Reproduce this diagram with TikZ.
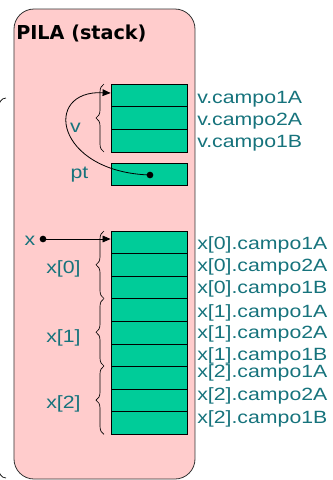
\documentclass[tikz,border=0pt]{standalone}
\usepackage{fontspec}
\setmainfont{Liberation Sans}[FakeStretch=1.2]
\newfontfamily\titlefont{DejaVu Sans}
\usetikzlibrary{arrows.meta,decorations.pathreplacing}
\definecolor{stackpink}{RGB}{255,204,204}
\definecolor{cellgreen}{RGB}{0,204,153}
\definecolor{labelteal}{RGB}{22,115,124}
\tikzset{
  cell/.style={draw=black,fill=cellgreen,line width=0.6pt,minimum width=57pt,minimum height=17pt,inner sep=0pt},
  lbl/.style={text=labelteal,font=\fontsize{13.3pt}{15pt}\selectfont,inner sep=0pt},
  rlbl/.style={lbl,anchor=base west},
  curly/.style={decorate,decoration={brace,amplitude=6pt},line width=0.5pt},
  ptr/.style={line width=0.6pt,-{Triangle[length=6pt,width=5pt]}},
  dot/.style={circle,fill=black,inner sep=0pt,minimum size=5pt}
}
\begin{document}
\begin{tikzpicture}[x=0.75pt,y=-0.75pt]
\useasboundingbox (0,0) rectangle (333,480);
% stack frame
\node[draw=black!80,fill=stackpink,rounded corners=15pt,line width=0.6pt,
      minimum width=135.75pt,minimum height=352.5pt,inner sep=0pt] (stack) at (104.5,244) {};
\node[anchor=base west,inner sep=0pt,font=\titlefont\bfseries\fontsize{14.4pt}{16pt}\selectfont] (title) at (16,39) {PILA (stack)};
% brace of the enclosing block, cut by the page edge
\draw[line width=0.5pt] (6,98) to[out=180,in=80] (-2,108);
\draw[line width=0.5pt] (6,478) to[out=180,in=-80] (-2,468);
% record v
\node[cell] (v1) at (149,95.3) {};
\node[cell] (v2) at (149,118) {};
\node[cell] (v3) at (149,140.7) {};
% pointer pt
\node[cell] (pt) at (149,174.5) {};
% array x
\foreach \i/\y in {1/242.3,2/264.9,3/287.5,4/310.1,5/332.7,6/355.3,7/377.9,8/400.5,9/423.1}
  \node[cell] (x\i) at (149,\y) {};
% braces
\draw[curly] (104,152) -- (104,84);
\draw[curly] (104,298.5) -- (104,231);
\draw[curly] (104,366) -- (104,298.5);
\draw[curly] (104,434.4) -- (104,366);
% left labels
\node[lbl,anchor=base] (lv) at (75.5,132) {v};
\node[lbl,anchor=base] (lpt) at (79.5,178) {pt};
\node[lbl,anchor=base] (lx) at (30,245) {x};
\node[lbl,anchor=base] (lx0) at (63.5,273) {x[0]};
\node[lbl,anchor=base] (lx1) at (63.5,342) {x[1]};
\node[lbl,anchor=base] (lx2) at (63.5,408) {x[2]};
% right labels
\node[rlbl] (r1) at (197,103) {v.campo1A};
\node[rlbl] (r2) at (197,125) {v.campo2A};
\node[rlbl] (r3) at (197,147) {v.campo1B};
\node[rlbl] (s1) at (197,249) {x[0].campo1A};
\node[rlbl] (s2) at (197,271) {x[0].campo2A};
\node[rlbl] (s3) at (197,293) {x[0].campo1B};
\node[rlbl] (s4) at (197,317) {x[1].campo1A};
\node[rlbl] (s5) at (197,338) {x[1].campo2A};
\node[rlbl] (s6) at (197,360) {x[1].campo1B};
\node[rlbl] (s7) at (197,377) {x[2].campo1A};
\node[rlbl] (s8) at (197,400) {x[2].campo2A};
\node[rlbl] (s9) at (197,423) {x[2].campo1B};
% pointers
\node[dot] (xdot) at (43,239) {};
\draw[ptr] (xdot.center) -- (x1.west |- xdot);
\node[dot] (ptdot) at (150,175) {};
\coordinate (vtarget) at (v1.west |- 0,93);
\draw[ptr] (ptdot.center) .. controls (55,172) and (42,90) .. (vtarget);
\end{tikzpicture}
\end{document}
